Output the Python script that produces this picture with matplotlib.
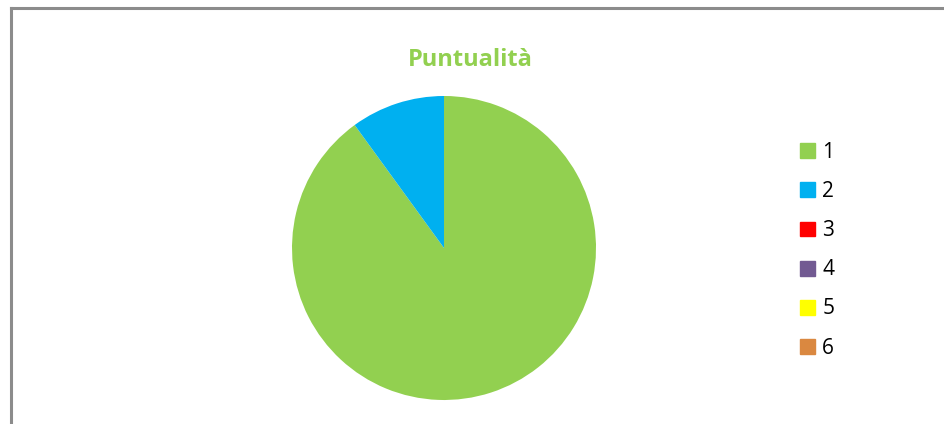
import matplotlib.pyplot as plt
import matplotlib.patches as mpatches
from matplotlib.lines import Line2D

# data
labels = ["1", "2", "3", "4", "5", "6"]
values = [9, 1, 0, 0, 0, 0]
colors = ["#92D050", "#00B0F0", "#FF0000", "#725A92", "#FFFF00", "#DA8840"]
title = "Puntualità"

plt.rcParams['font.family'] = ['Open Sans', 'DejaVu Sans']

fig = plt.figure(figsize=(9.45, 4.24), dpi=100)

# chart frame (only top and left visible in the crop)
W, H = 945, 424
fig.add_artist(Line2D([10.5 / W, 1], [1 - 7.5 / H, 1 - 7.5 / H], color="#8C8C8C", lw=2.2))
fig.add_artist(Line2D([10.5 / W, 10.5 / W], [0, 1 - 7.5 / H], color="#8C8C8C", lw=2.2))

ax = fig.add_axes([0.309, 0.0566, 0.3217, 0.717])
wedges, _ = ax.pie(values, colors=colors, startangle=90, counterclock=False,
                   wedgeprops=dict(linewidth=0))
ax.set_xlim(-1, 1)
ax.set_ylim(-1, 1)
ax.set_aspect("equal")

fig.text(470 / W, 1 - 60 / H, title, ha="center", va="center",
         fontsize=17, fontweight="bold", color="#92D050")

handles = [mpatches.Patch(color=c) for c in colors]
fig.legend(handles, labels, loc="upper left", bbox_to_anchor=(800 / W, 1 - 142 / H),
           frameon=False, fontsize=15, handlelength=0.72, handleheight=0.72,
           handletextpad=0.35, labelspacing=0.87, borderpad=0, borderaxespad=0)

fig.savefig("out.png", dpi=100)
